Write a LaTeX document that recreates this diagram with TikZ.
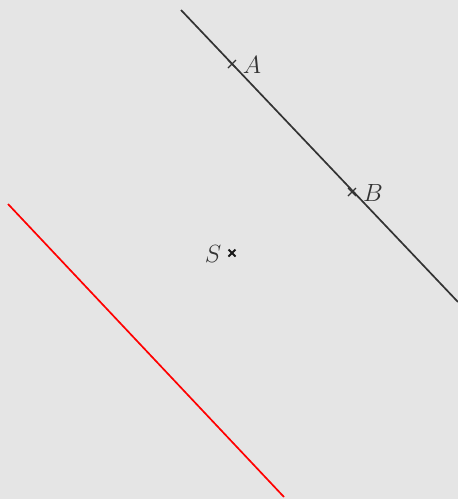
\documentclass[tikz,border=0pt]{standalone}
\begin{document}
\begin{tikzpicture}[x=1pt,y=-1pt,
  lbl/.style={text=black!80, font=\fontsize{23}{26}\selectfont, inner sep=0pt},
  cross/.style={line width=1.4pt, black!80},
  scross/.style={line width=1.8pt, black!90}]
\fill[black!10] (0,0) rectangle (458,499);
\useasboundingbox (0,0) rectangle (458,499);
\coordinate (l1) at (181,10);
\coordinate (l2) at (458,302);
\coordinate (r1) at (8,204);
\coordinate (r2) at (284,497);
\draw[line width=1.7pt, black!80] (l1) -- (l2);
\draw[line width=1.7pt, red] (r1) -- (r2);
\coordinate (a) at (232,64);
\coordinate (b) at (352,192);
\coordinate (s) at (232,253);
\draw[cross] ([shift={(-4,-4)}]a) -- ([shift={(4,4)}]a) ([shift={(-4,4)}]a) -- ([shift={(4,-4)}]a);
\draw[cross] ([shift={(-4,-4)}]b) -- ([shift={(4,4)}]b) ([shift={(-4,4)}]b) -- ([shift={(4,-4)}]b);
\draw[scross] ([shift={(-3.5,-3.5)}]s) -- ([shift={(3.5,3.5)}]s) ([shift={(-3.5,3.5)}]s) -- ([shift={(3.5,-3.5)}]s);
\node[lbl] (la) at (252,65) {$A$};
\node[lbl] (lb) at (373,193) {$B$};
\node[lbl] (ls) at (213,254) {$S$};
\end{tikzpicture}
\end{document}
